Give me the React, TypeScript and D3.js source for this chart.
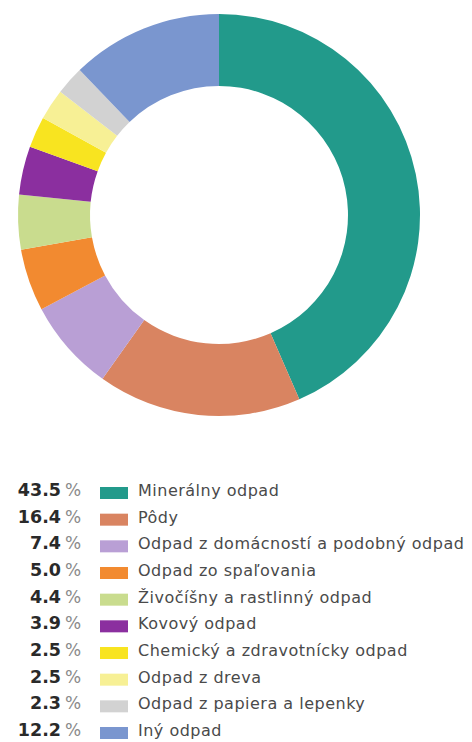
import React from "react";
import * as d3 from "d3";

const categories = [
  "Minerálny odpad",
  "Pôdy",
  "Odpad z domácností a podobný odpad",
  "Odpad zo spaľovania",
  "Živočíšny a rastlinný odpad",
  "Kovový odpad",
  "Chemický a zdravotnícky odpad",
  "Odpad z dreva",
  "Odpad z papiera a lepenky",
  "Iný odpad",
];
const values = [43.5, 16.4, 7.4, 5.0, 4.4, 3.9, 2.5, 2.5, 2.3, 12.2];
const colors = [
  "#229a8b",
  "#d98461",
  "#b99fd5",
  "#f28a30",
  "#c9dc8e",
  "#8b2f9f",
  "#f8e420",
  "#f7f095",
  "#d2d2d2",
  "#7a96cf",
];

export default function App() {
  const cx = 219, cy = 215, rOut = 201, rIn = 129;
  const pie = d3.pie<number>().sort(null).value((d) => d)(values);
  const arc = d3.arc<d3.PieArcDatum<number>>().innerRadius(rIn).outerRadius(rOut);
  const rowY = d3.scaleLinear().domain([0, categories.length - 1]).range([496, 736]);
  return (
    <svg
      width={472}
      height={742}
      style={{ position: "absolute", left: 0, top: 0, background: "#fff" }}
    >
      <g transform={`translate(${cx},${cy})`}>
        {pie.map((p, i) => (
          <path key={i} d={arc(p) || ""} fill={colors[i]} />
        ))}
      </g>
      {categories.map((c, i) => {
        const y = rowY(i);
        return (
          <g key={c}>
            <text
              x={61}
              y={y}
              textAnchor="end"
              fontFamily="DejaVu Sans"
              fontSize={17.5}
              fontWeight="bold"
              fill="#2a2a2a"
            >
              {values[i].toFixed(1)}
            </text>
            <text x={65} y={y} fontFamily="DejaVu Sans" fontSize={17} fill="#8a8a8a">
              %
            </text>
            <rect x={100} y={y - 9} width={28} height={12} fill={colors[i]} />
            <text
              x={138}
              y={y}
              fontFamily="DejaVu Sans"
              fontSize={16}
              letterSpacing={0.5}
              fill="#4a4a4a"
            >
              {c}
            </text>
          </g>
        );
      })}
    </svg>
  );
}
